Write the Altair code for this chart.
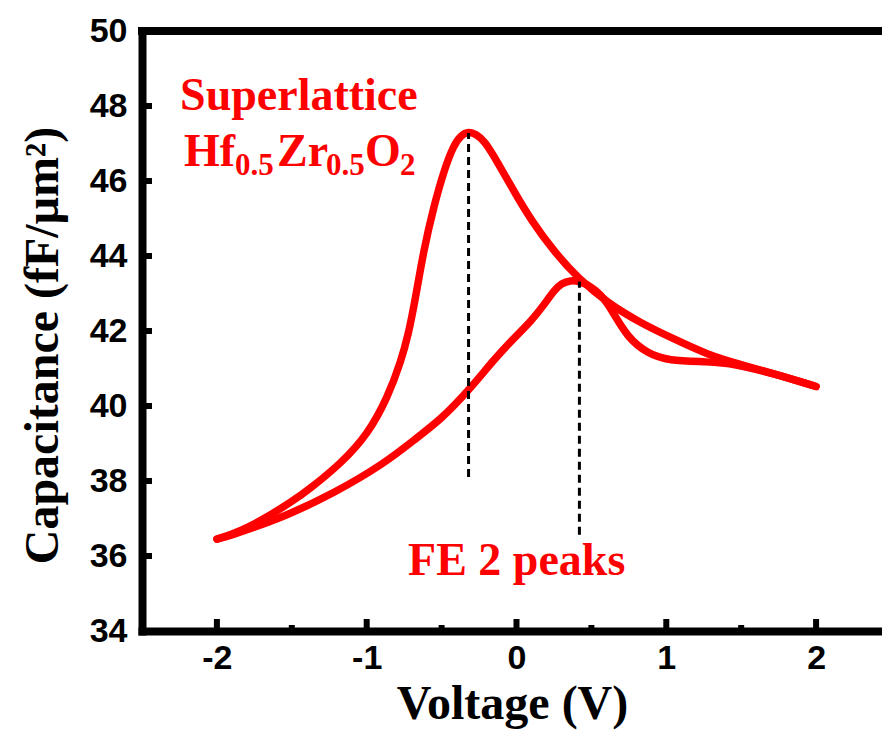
import altair as alt
import pandas as pd

# ---- data ----
# upper branch (Superlattice peak near -0.32 V)
volt_A = [-2.00, -1.90, -1.80, -1.66, -1.50, -1.39, -1.17, -0.99, -0.86, -0.77, -0.72,
          -0.68, -0.62, -0.55, -0.48, -0.42, -0.37, -0.32, -0.27, -0.215, -0.126,
          -0.015, 0.097, 0.25, 0.41, 0.61, 0.83, 1.05, 1.28, 1.50, 1.72, 2.00]
cap_A = [36.45, 36.58, 36.75, 37.05, 37.45, 37.76, 38.47, 39.26, 40.23, 41.20, 41.95,
         42.75, 44.15, 45.36, 46.33, 46.95, 47.22, 47.32, 47.25, 47.08, 46.50,
         45.71, 44.96, 44.12, 43.41, 42.74, 42.21, 41.79, 41.36, 41.10, 40.86, 40.52]
# lower branch (second peak near 0.42 V)
volt_B = [-2.00, -1.90, -1.80, -1.55, -1.22, -0.88, -0.66, -0.50, -0.32, -0.148,
          -0.015, 0.097, 0.186, 0.25, 0.30, 0.36, 0.42, 0.50, 0.56, 0.63, 0.74, 0.88,
          1.01, 1.28, 1.45, 1.72, 2.00]
cap_B = [36.45, 36.56, 36.70, 37.05, 37.67, 38.47, 39.17, 39.66, 40.41, 41.25,
         41.82, 42.26, 42.71, 43.08, 43.27, 43.35, 43.33, 43.18, 42.98, 42.61, 41.82,
         41.39, 41.21, 41.18, 41.13, 40.86, 40.52]

# dashed guide lines at the two peaks
peak_V = [-0.32, 0.42]
peak_top = [47.28, 43.32]
peak_bottom = [38.11, 36.57]

# axis ticks
x_major = [-2, -1, 0, 1, 2]
x_minor = [-1.5, -0.5, 0.5, 1.5]
y_major = [36, 38, 40, 42, 44, 46, 48]
y_labels = [34, 36, 38, 40, 42, 44, 46, 48, 50]

# annotations
ann_text = ["Superlattice", "Hf", "0.5", "Zr", "0.5", "O", "2", "FE 2 peaks"]
ann_V = [-2.246, -2.220, -1.879, -1.599, -1.271, -1.011, -0.777, -0.724]
ann_C = [47.89, 46.40, 46.16, 46.40, 46.16, 46.40, 46.16, 35.49]
ann_size = [46, 46, 31, 46, 31, 46, 31, 46]

# ---- chart ----
X_MIN, X_MAX = -2.5, 2.44
Y_MIN, Y_MAX = 34, 50
W, H = 740, 600
px_per_V = W / (X_MAX - X_MIN)
px_per_C = H / (Y_MAX - Y_MIN)

x_scale = alt.Scale(domain=[X_MIN, X_MAX], nice=False, zero=False)
y_scale = alt.Scale(domain=[Y_MIN, Y_MAX], nice=False, zero=False)

x_axis = alt.Axis(values=x_major, title="Voltage (V)", labelExpr="'' + datum.value",
                  titleY=87, titleBaseline="alphabetic")
y_axis = alt.Axis(values=y_labels, title="Capacitance (fF/μm²)",
                  labelExpr="'' + datum.value",
                  titleX=-85, titleY=314, titleBaseline="alphabetic")

x_enc = alt.X("V:Q", scale=x_scale, axis=x_axis)
y_enc = alt.Y("C:Q", scale=y_scale, axis=y_axis)

curves = pd.DataFrame({
    "V": volt_A + volt_B,
    "C": cap_A + cap_B,
    "branch": ["A"] * len(volt_A) + ["B"] * len(volt_B),
})

line_layer = alt.Chart(curves).mark_line(
    color="#ff0000", strokeWidth=7.5, interpolate="basis", strokeCap="round",
    strokeJoin="round"
).encode(x=x_enc, y=y_enc, detail="branch:N")

dash_df = pd.DataFrame({"V": peak_V, "C": peak_bottom, "C2": peak_top})
dash_layer = alt.Chart(dash_df).mark_rule(
    color="black", strokeWidth=3, strokeDash=[8, 5]
).encode(x=x_enc, y=y_enc, y2="C2:Q")

xmaj_df = pd.DataFrame({"V": x_major, "C": [Y_MIN] * len(x_major),
                        "C2": [Y_MIN + 12 / px_per_C] * len(x_major)})
xmin_df = pd.DataFrame({"V": x_minor, "C": [Y_MIN] * len(x_minor),
                        "C2": [Y_MIN + 6 / px_per_C] * len(x_minor)})
ymaj_df = pd.DataFrame({"C": y_major, "V": [X_MIN] * len(y_major),
                        "V2": [X_MIN + 10 / px_per_V] * len(y_major)})

xmaj_layer = alt.Chart(xmaj_df).mark_rule(color="black", strokeWidth=6).encode(
    x=x_enc, y=y_enc, y2="C2:Q")
xmin_layer = alt.Chart(xmin_df).mark_rule(color="black", strokeWidth=6).encode(
    x=x_enc, y=y_enc, y2="C2:Q")
ymaj_layer = alt.Chart(ymaj_df).mark_rule(color="black", strokeWidth=6).encode(
    x=x_enc, x2="V2:Q", y=y_enc)

top_df = pd.DataFrame({"C": [Y_MAX]})
top_layer = alt.Chart(top_df).mark_rule(
    color="black", strokeWidth=8, strokeCap="square").encode(y=y_enc)

ann_df = pd.DataFrame({"V": ann_V, "C": ann_C, "label": ann_text, "fs": ann_size})
ann_layer = alt.Chart(ann_df).mark_text(
    color="#ff0000", font="Liberation Serif", fontWeight="bold",
    align="left", baseline="alphabetic"
).encode(x=x_enc, y=y_enc, text="label:N", size=alt.Size("fs:Q", scale=None))

chart = alt.layer(
    line_layer, dash_layer, xmaj_layer, xmin_layer, ymaj_layer, top_layer, ann_layer
).properties(
    width=W, height=H,
    padding={"left": 142, "top": 31, "right": 0, "bottom": 100},
    autosize=alt.AutoSizeParams(type="none"),
    background="white",
).configure_view(stroke=None).configure_axis(
    grid=False, ticks=False, tickSize=0,
    domainColor="black", domainWidth=8, domainCap="square",
    labelFont="Liberation Sans", labelFontWeight="bold", labelFontSize=34,
    labelColor="black", labelFlush=False, labelOverlap=False,
    titleFont="Liberation Serif", titleFontWeight="bold", titleFontSize=48,
    titleColor="black",
).configure_axisX(labelPadding=10).configure_axisY(labelPadding=15)

chart.save("out.html", embed_options={"renderer": "svg", "actions": False})
